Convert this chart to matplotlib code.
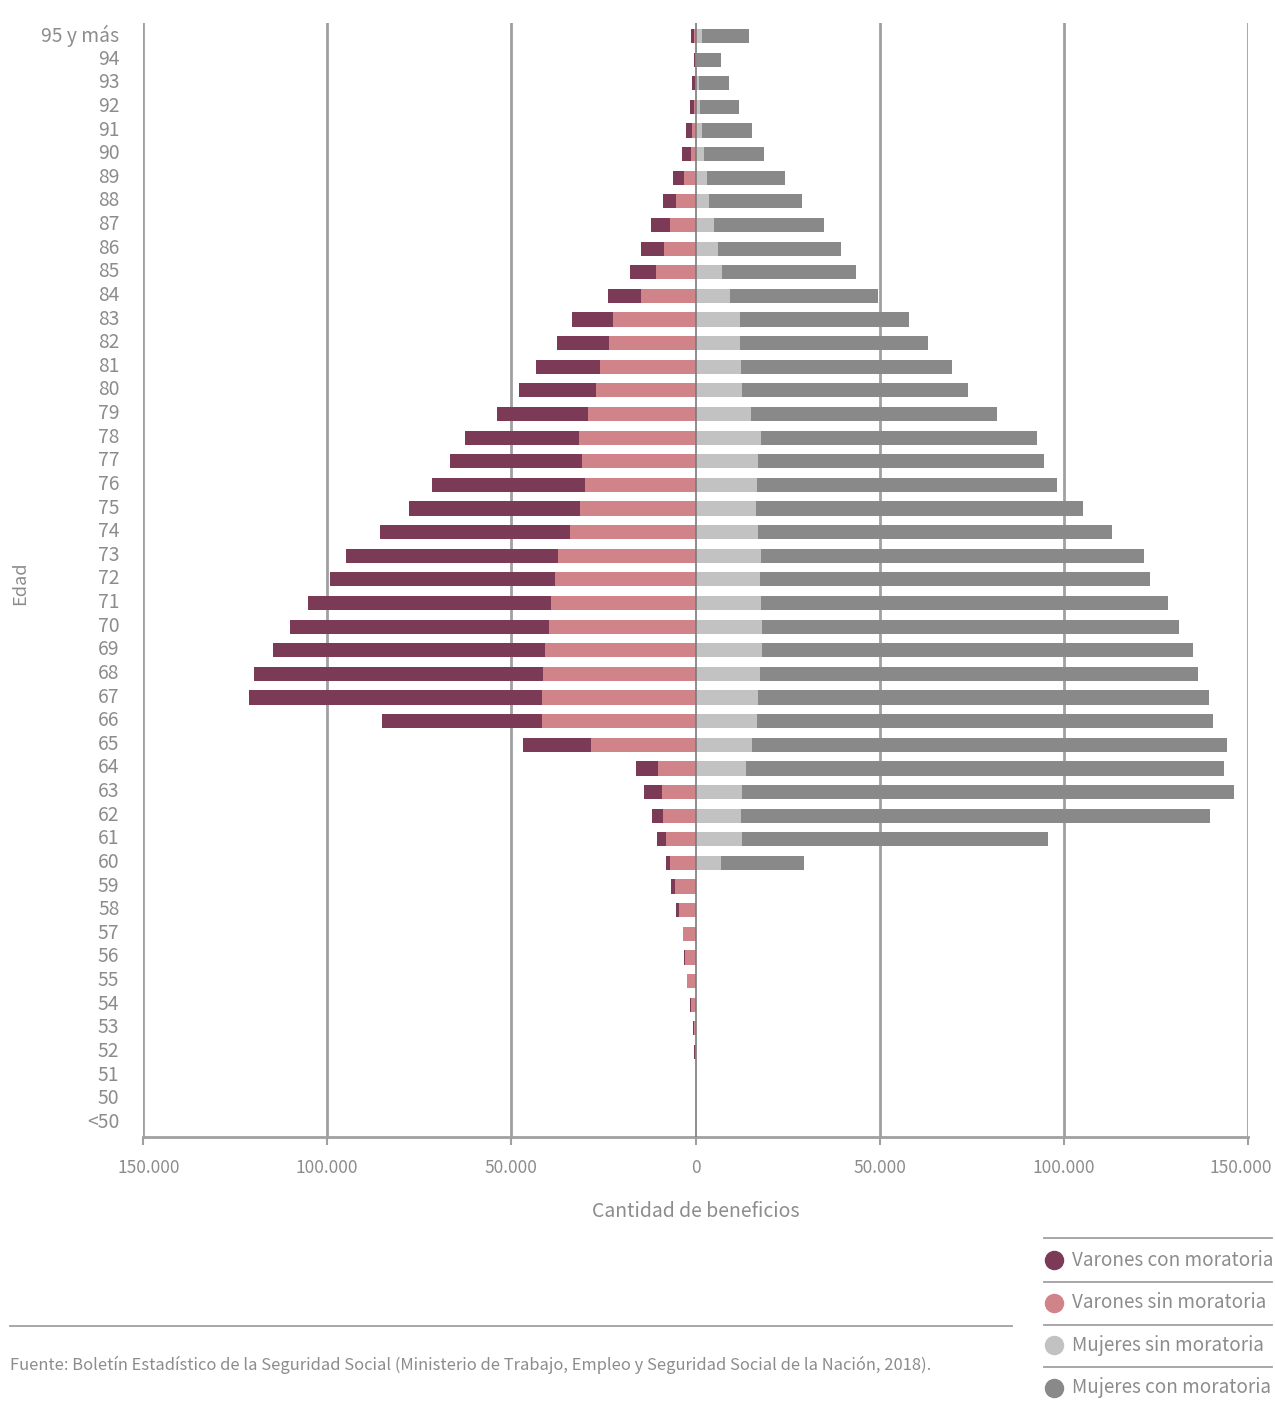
import matplotlib
matplotlib.use('Agg')
import matplotlib.pyplot as plt
from matplotlib.lines import Line2D
from matplotlib.ticker import FuncFormatter
from matplotlib.transforms import ScaledTranslation
import numpy as np

plt.rcParams['font.family'] = ['Noto Sans CJK SC', 'DejaVu Sans']

ages = ['95 y más'] + [str(a) for a in range(94, 49, -1)] + ['<50']

# cantidad de beneficios por edad (de 95 y más hacia <50)
varones_con = [800, 400, 800, 1200, 1600, 2500, 3100, 3600, 5000, 6100,
               7000, 9000, 11100, 14000, 17500, 20900, 24600, 31000, 35800, 41500,
               46300, 51400, 57600, 61000, 66100, 70200, 73900, 78400, 79500, 43400,
               18400, 6100, 4800, 3100, 2300, 1100, 900, 600, 200, 100,
               100, 200, 500, 300, 0, 0, 0]
varones_sin = [300, 100, 200, 400, 900, 1200, 3000, 5200, 7000, 8600,
               10700, 14800, 22400, 23600, 25800, 27100, 29300, 31700, 30800, 30100,
               31400, 34200, 37300, 38200, 39100, 39900, 40900, 41400, 41600, 41600,
               28300, 10100, 9100, 8800, 8100, 6800, 5700, 4600, 3300, 2900,
               2300, 1200, 300, 200, 0, 0, 0]
mujeres_sin = [1800, 500, 900, 1300, 1800, 2400, 3100, 3700, 5100, 6000,
               7200, 9500, 12000, 12000, 12400, 12700, 15100, 17900, 17100, 16700,
               16500, 17000, 17900, 17600, 17900, 18100, 18000, 17500, 17000, 16800,
               15400, 13600, 12700, 12300, 12600, 7000, 0, 0, 0, 0,
               0, 0, 0, 0, 0, 0, 0]
mujeres_con = [12700, 6300, 8300, 10400, 13500, 16200, 21100, 25200, 29700, 33400,
               36300, 40000, 45900, 51000, 57200, 61200, 66800, 74900, 77600, 81500,
               88700, 96200, 103800, 105900, 110500, 113300, 117000, 118900, 122400, 123800,
               128800, 129900, 133500, 127400, 83000, 22400, 0, 0, 0, 0,
               0, 0, 0, 0, 0, 0, 0]

series_labels = ['Varones con moratoria', 'Varones sin moratoria',
                 'Mujeres sin moratoria', 'Mujeres con moratoria']
colors = ['#7b3b56', '#d0848a', '#c2c2c2', '#898989']

text_color = '#8c8c8c'
grid_color = '#a0a0a0'

fig = plt.figure(figsize=(12.75, 14.05), dpi=100)
ax = fig.add_axes([143 / 1275, 1 - 1137 / 1405, 1105 / 1275, (1137 - 23) / 1405])

y = np.arange(len(ages))
vc = np.array(varones_con)
vs = np.array(varones_sin)
ms = np.array(mujeres_sin)
mc = np.array(mujeres_con)
h = 0.6

ax.barh(y, -vs, height=h, color=colors[1], zorder=2)
ax.barh(y, -vc, left=-vs, height=h, color=colors[0], zorder=2)
ax.barh(y, ms, height=h, color=colors[2], zorder=2)
ax.barh(y, mc, left=ms, height=h, color=colors[3], zorder=2)

for xv in [-150000, -100000, -50000, 50000, 100000, 150000]:
    ax.axvline(xv, color=grid_color, lw=2, zorder=1)
ax.axvline(0, color='#7a7a7a', lw=1.2, zorder=3)

ax.set_xlim(-150000, 150000)
ax.set_ylim(46.6, -0.55)
ax.set_yticks(y)
ax.set_yticklabels(ages)
ax.set_xticks([-150000, -100000, -50000, 0, 50000, 100000, 150000])
ax.xaxis.set_major_formatter(FuncFormatter(lambda v, p: f'{abs(int(v)):,}'.replace(',', '.')))

for s in ['top', 'right', 'left']:
    ax.spines[s].set_visible(False)
ax.spines['bottom'].set_color(grid_color)
ax.spines['bottom'].set_linewidth(2)
ax.tick_params(axis='y', length=0, labelsize=13.9, labelcolor=text_color, pad=17)
ax.tick_params(axis='x', length=6, width=1.5, color=grid_color, labelsize=12.5,
               labelcolor=text_color, pad=10)

# etiquetas de edad algo por encima de la barra
up = ScaledTranslation(0, 3 / 100, fig.dpi_scale_trans)
for lab in ax.get_yticklabels():
    lab.set_transform(lab.get_transform() + up)

xlabs = ax.get_xticklabels()
xlabs[0].set_transform(xlabs[0].get_transform() + ScaledTranslation(6 / 100, 0, fig.dpi_scale_trans))
xlabs[-1].set_transform(xlabs[-1].get_transform() + ScaledTranslation(-7 / 100, 0, fig.dpi_scale_trans))

ax.set_xlabel('Cantidad de beneficios', fontsize=14, color=text_color, labelpad=17)
fig.text(20 / 1275, 1 - 583 / 1405, 'Edad', rotation=90, fontsize=13,
         color=text_color, ha='center', va='center')

# leyenda con separadores
for ly in [1238, 1282, 1325, 1367]:
    fig.add_artist(Line2D([1044 / 1275, 1272 / 1275], [1 - ly / 1405, 1 - ly / 1405],
                          color=grid_color, lw=1.3))
for lab, col, ly in zip(series_labels, colors, [1260, 1303, 1345, 1388]):
    fig.add_artist(Line2D([1054 / 1275], [1 - ly / 1405], marker='o', markersize=13,
                          color=col, linestyle='none'))
    fig.text(1072 / 1275, 1 - ly / 1405, lab, fontsize=13.6, color=text_color,
             ha='left', va='center')

fig.add_artist(Line2D([10 / 1275, 1012 / 1275], [1 - 1326 / 1405, 1 - 1326 / 1405],
                      color=grid_color, lw=1.3))
fig.text(10 / 1275, 1 - 1365 / 1405,
         'Fuente: Boletín Estadístico de la Seguridad Social (Ministerio de Trabajo, Empleo y '
         'Seguridad Social de la Nación, 2018).',
         fontsize=11.9, color=text_color, ha='left', va='center')

fig.savefig('out.png', dpi=100, facecolor='white')
